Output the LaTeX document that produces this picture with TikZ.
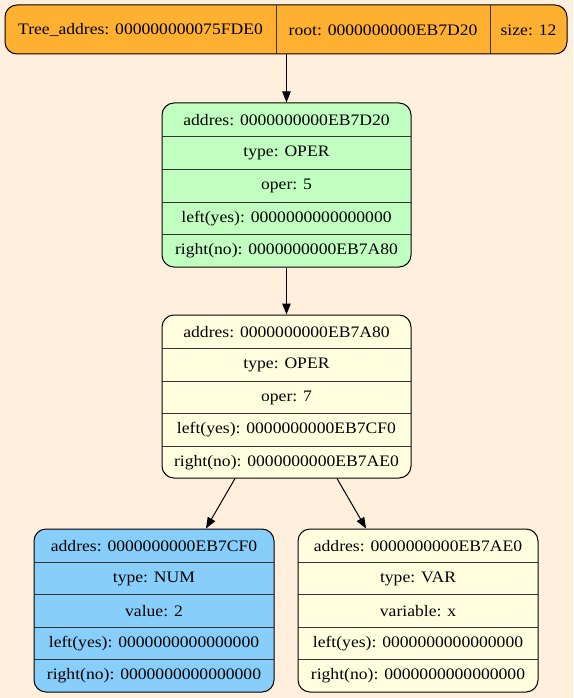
\documentclass[tikz,border=0pt]{standalone}
\usepackage{fontspec}
\setmainfont{Liberation Serif}[FakeStretch=1.1]
\usetikzlibrary{arrows.meta}
\definecolor{bgc}{HTML}{FFEFDC}
\definecolor{orangec}{HTML}{FFB030}
\definecolor{greenc}{HTML}{C0FFC0}
\definecolor{yellowc}{HTML}{FFFFE0}
\definecolor{bluec}{HTML}{87CEFA}
\definecolor{linec}{HTML}{333333}
\tikzset{
  rec/.style={draw=black, line width=1pt, rounded corners=12pt, inner sep=0pt},
  txt/.style={inner sep=0pt, font=\fontsize{16}{18}\selectfont, anchor=center},
  divl/.style={draw=linec, line width=1pt},
  arr/.style={draw=black, line width=1pt, -{Triangle[length=11pt,width=8.5pt]}}
}
\begin{document}
\begin{tikzpicture}[x=1pt,y=-1pt]
\useasboundingbox[fill=bgc] (0,0) rectangle (573,698);
% top record
\node[rec, fill=orangec, minimum width=562pt, minimum height=49pt] (t) at (286,29.5) {};
\draw[divl] (276,5) -- (276,54);
\draw[divl] (490,5) -- (490,54);
\node[txt] (t1) at (140.5,30) {Tree\_addres: 000000000075FDE0};
\node[txt] (t2) at (383,30) {root: 0000000000EB7D20};
\node[txt] (t3) at (528.5,30) {size: 12};
% green record
\node[rec, fill=greenc, minimum width=249pt, minimum height=164pt] (g) at (286.5,185) {};
\foreach \yy in {136,169,202,234} \draw[divl] (162,\yy) -- (411,\yy);
\node[txt] (g1) at (286.5,120) {addres: 0000000000EB7D20};
\node[txt] (g2) at (286.5,153) {type: OPER};
\node[txt] (g3) at (286.5,186) {oper: 5};
\node[txt] (g4) at (286.5,218.5) {left(yes): 0000000000000000};
\node[txt] (g5) at (286.5,251) {right(no): 0000000000EB7A80};
% middle yellow record
\node[rec, fill=yellowc, minimum width=249pt, minimum height=163pt] (m) at (286.5,396.5) {};
\foreach \yy in {348,381,413,446} \draw[divl] (162,\yy) -- (411,\yy);
\node[txt] (m1) at (286.5,332) {addres: 0000000000EB7A80};
\node[txt] (m2) at (286.5,365) {type: OPER};
\node[txt] (m3) at (286.5,397.5) {oper: 7};
\node[txt] (m4) at (286.5,430) {left(yes): 0000000000EB7CF0};
\node[txt] (m5) at (286.5,462.5) {right(no): 0000000000EB7AE0};
% blue record
\node[rec, fill=bluec, minimum width=240pt, minimum height=163pt] (b) at (154,610.5) {};
\foreach \yy in {562,594,627,659} \draw[divl] (34,\yy) -- (274,\yy);
\node[txt] (b1) at (154,546) {addres: 0000000000EB7CF0};
\node[txt] (b2) at (154,578.5) {type: NUM};
\node[txt] (b3) at (154,611) {value: 2};
\node[txt] (b4) at (154,643.5) {left(yes): 0000000000000000};
\node[txt] (b5) at (154,676) {right(no): 0000000000000000};
% right yellow record
\node[rec, fill=yellowc, minimum width=240pt, minimum height=163pt] (r) at (418,610.5) {};
\foreach \yy in {562,594,627,659} \draw[divl] (298,\yy) -- (538,\yy);
\node[txt] (r1) at (418,546) {addres: 0000000000EB7AE0};
\node[txt] (r2) at (418,578.5) {type: VAR};
\node[txt] (r3) at (418,611) {variable: x};
\node[txt] (r4) at (418,643.5) {left(yes): 0000000000000000};
\node[txt] (r5) at (418,676) {right(no): 0000000000000000};
% edges
\draw[arr] (g.north |- t.south) -- (g.north);
\draw[arr] (m.north |- g.south) -- (m.north);
\draw[arr] ([xshift=-51.5pt]m.south) -- ([xshift=52pt]b.north);
\draw[arr] ([xshift=50.5pt]m.south) -- ([xshift=-52pt]r.north);
\end{tikzpicture}
\end{document}
